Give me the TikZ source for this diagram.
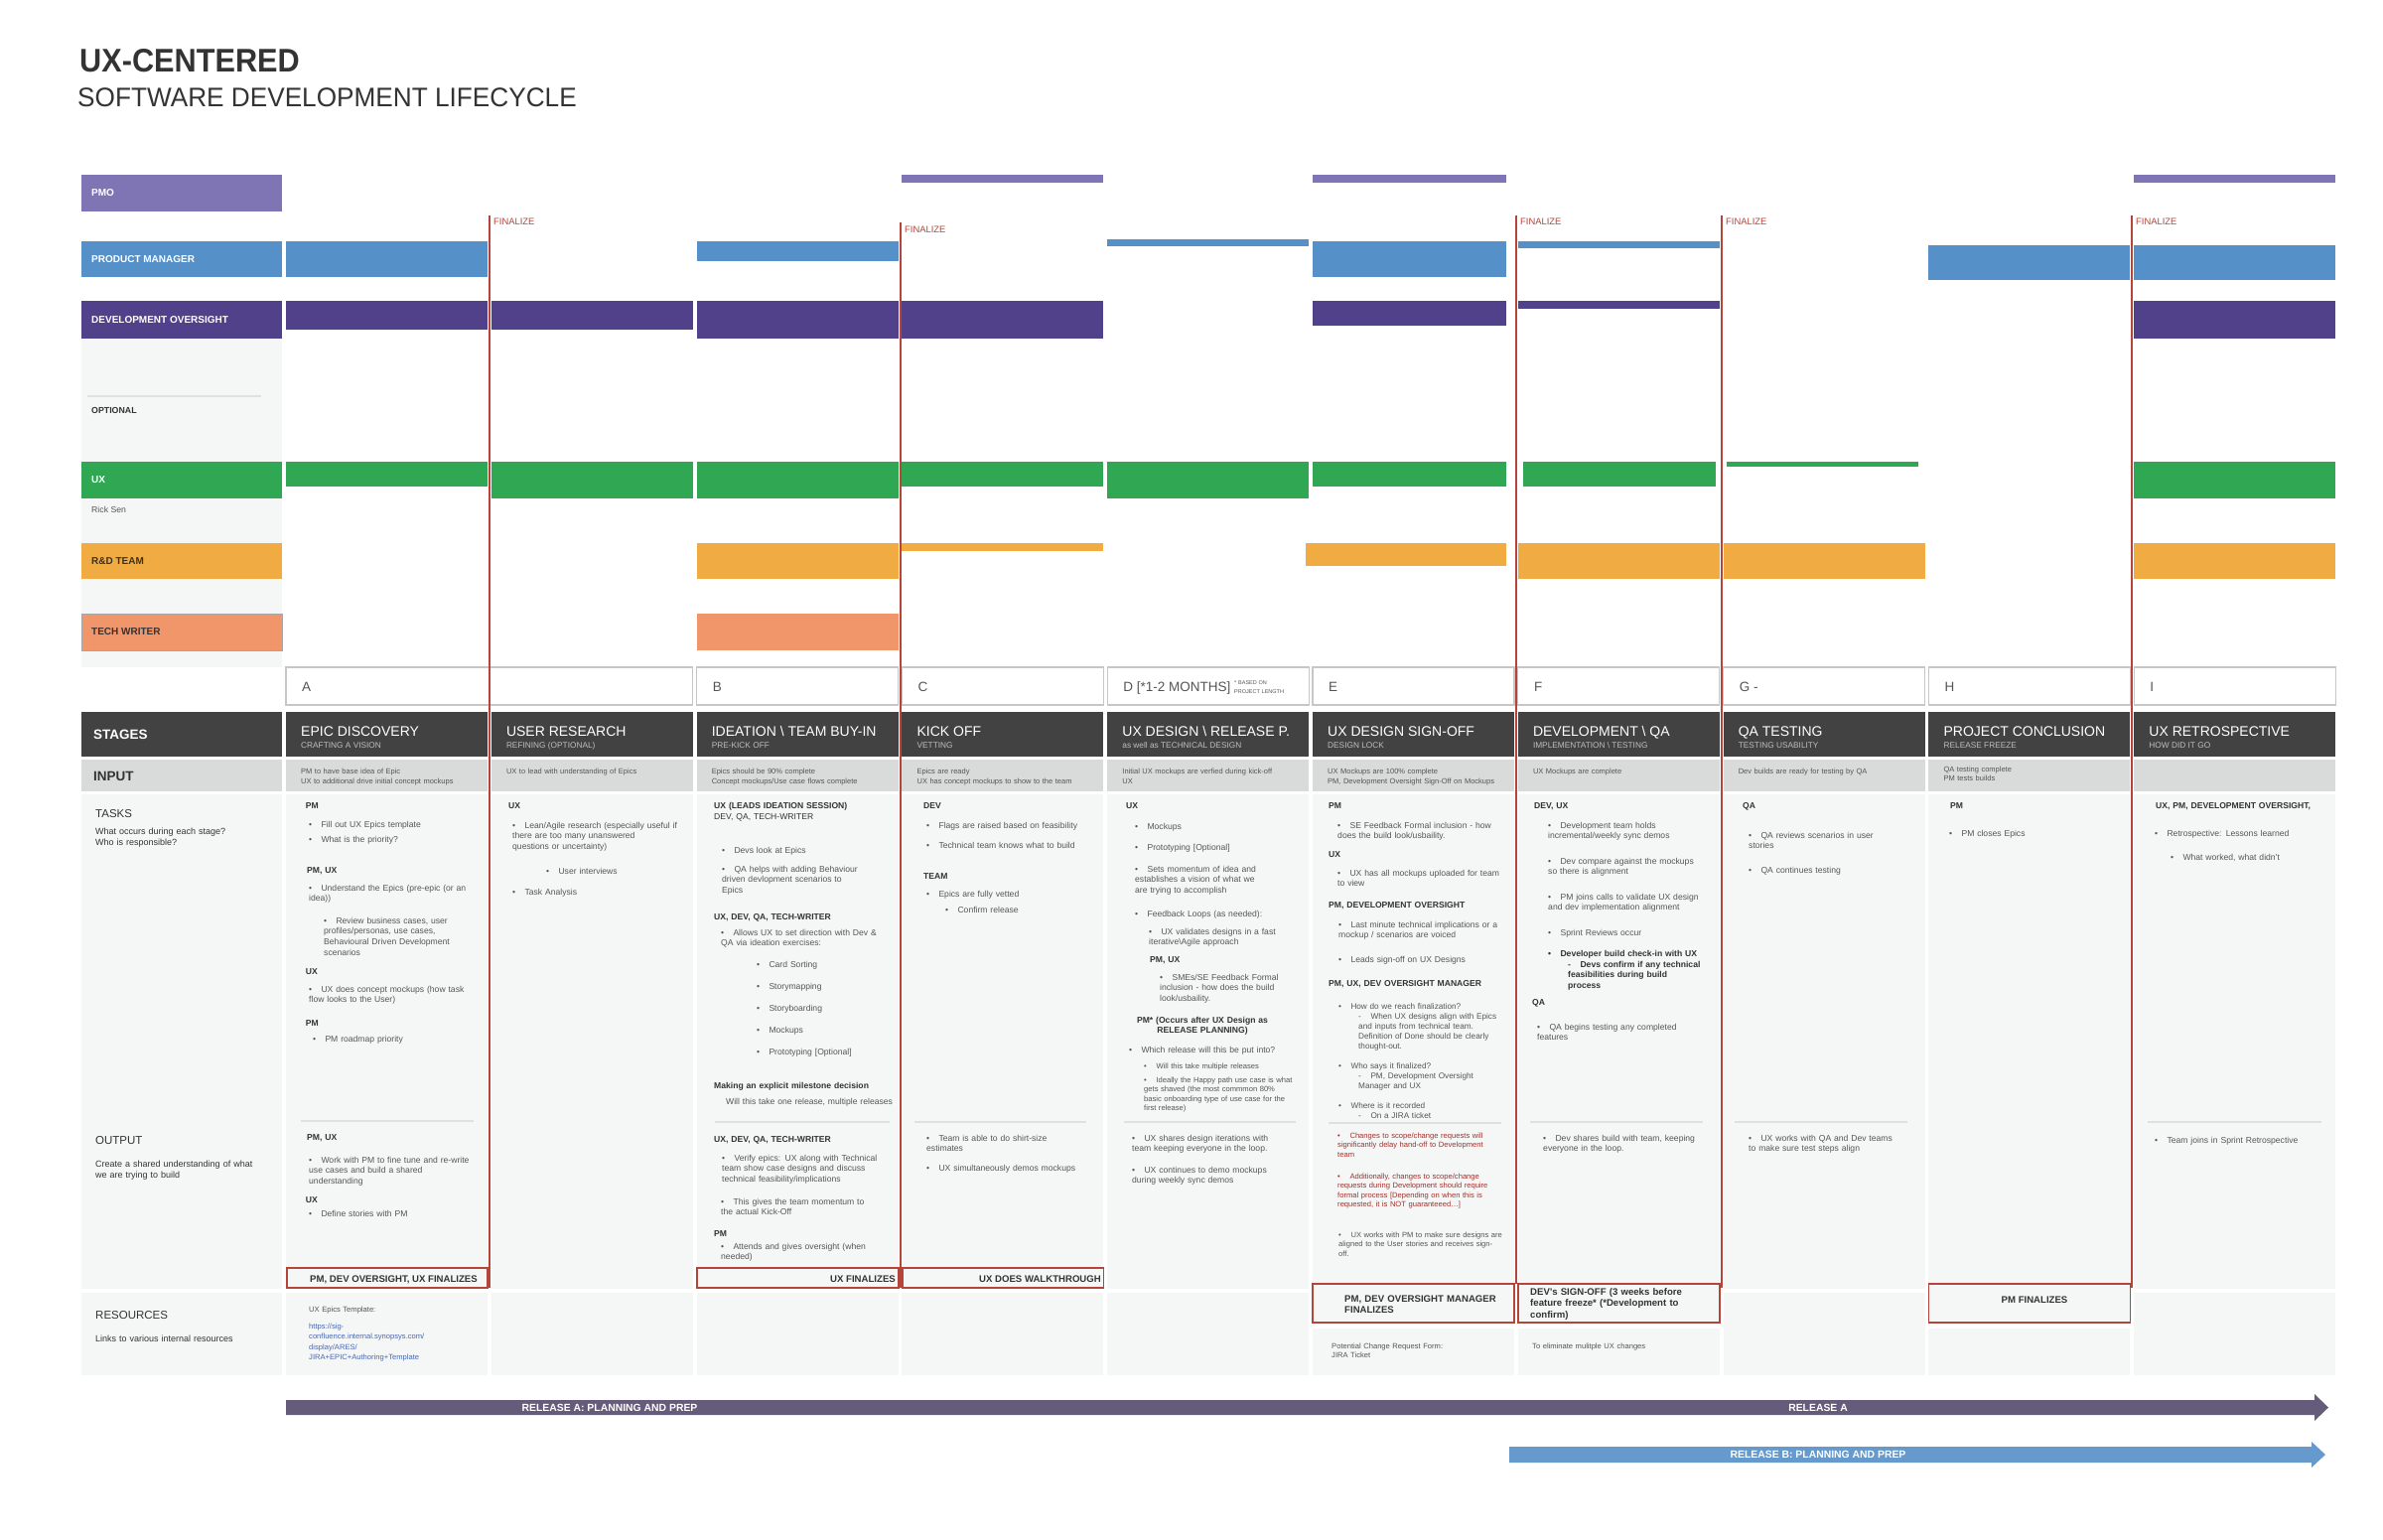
\documentclass[tikz,border=0pt]{standalone}
\usepackage{fontspec}
\setmainfont{Liberation Sans}
\usepackage{graphicx}
\usetikzlibrary{positioning}
\definecolor{pmocol}{HTML}{7F75B4}
\definecolor{pmcol}{HTML}{5590C8}
\definecolor{devcol}{HTML}{51418A}
\definecolor{uxcol}{HTML}{30A753}
\definecolor{rdcol}{HTML}{F0AC42}
\definecolor{twcol}{HTML}{F0966A}
\definecolor{stagecol}{HTML}{424242}
\definecolor{inputcol}{HTML}{D9DADA}
\definecolor{cellcol}{HTML}{F5F7F7}
\definecolor{redline}{HTML}{B5443A}
\definecolor{ink}{HTML}{333333}
\definecolor{body}{HTML}{555555}
\definecolor{linkcol}{HTML}{4A67AD}
\definecolor{relA}{HTML}{655B7A}
\definecolor{relB}{HTML}{6699CC}
\definecolor{alertcol}{HTML}{A0302A}
\newcommand\fs[2]{\fontsize{#1}{#2}\selectfont}
\newcommand\bu{\hangindent=12.3pt\hangafter=1\makebox[12.3pt][l]{\textbullet}}
\newcommand\da{\hangindent=12.3pt\hangafter=1\makebox[12.3pt][l]{-}}
\newcommand\rolebar[4]{\fill[#4] ({288+(#1-1)*206.8},#2) rectangle ({288+(#1-1)*206.8+203},#3);}
\begin{document}
\begin{tikzpicture}[x=1pt,y=-1pt,
  every node/.style={inner sep=0pt},
  txt/.style={anchor=base west,text width=195pt,align=left,font=\fs{8.6}{10.7},text=body},
  hd/.style={txt,font=\fs{8.6}{10.7}\bfseries,text=ink},
  sm/.style={txt,font=\fs{8.2}{10}},
  xs/.style={txt,font=\fs{7.6}{9.5}},
  alert/.style={xs,text=alertcol},
  role/.style={anchor=west,font=\fs{10}{12}\bfseries,text=white},
  fin/.style={anchor=base west,font=\fs{9.6}{11.8}\bfseries,text=ink},
  finbox/.style={draw=redline,line width=1.8pt,fill=cellcol},
  sep/.style={draw=black!12,line width=1.2pt},
  redv/.style={draw=redline,line width=2pt},
  finlbl/.style={anchor=base west,font=\fs{9.4}{10},text=redline},
  stg/.style={anchor=base west,font=\fs{14}{16},text=white},
  stgsub/.style={anchor=base west,font=\fs{8.3}{10},text=white!75!black},
  inp/.style={anchor=base west,text width=195pt,align=left,font=\fs{7.5}{10.8},text=body},
  lett/.style={anchor=base west,font=\fs{13.5}{16},text=body},
  letbox/.style={draw=black!22,fill=white,line width=1.2pt},
  side/.style={anchor=base west,font=\fs{11.5}{14},text=ink},
  sidesub/.style={anchor=base west,text width=185pt,align=left,font=\fs{9}{11},text=ink},
  rel/.style={font=\fs{10.4}{11}\bfseries,text=white}
  ]
\useasboundingbox (0,0) rectangle (2400,1550);

% title
\node[anchor=base west,text=ink,font=\fs{33}{36}\bfseries] (title) at (80,72) {\scalebox{0.93}[1]{UX-CENTERED}};
\node[anchor=base west,text=ink,font=\fs{27}{30}] (subtitle) at (78,107) {\scalebox{0.97}[1]{SOFTWARE DEVELOPMENT LIFECYCLE}};

% roles
\fill[cellcol] (82,341) rectangle (284,672);
\fill[pmocol] (82,176) rectangle (284,213);
\node[role] (pmo) at (92,194.5) {PMO};
\fill[pmcol] (82,243) rectangle (284,279);
\node[role] (pm) at (92,261) {PRODUCT MANAGER};
\fill[devcol] (82,303) rectangle (284,341);
\node[role] (dev) at (92,322) {DEVELOPMENT OVERSIGHT};
\draw[sep] (88,399) -- (263,399);
\node[anchor=base west,font=\fs{8.8}{10}\bfseries,text=ink] (opt) at (92,416) {OPTIONAL};
\fill[uxcol] (82,465) rectangle (284,502);
\node[role] (ux) at (92,483.5) {UX};
\node[anchor=base west,font=\fs{8.7}{10},text=body] (rick) at (92,516) {Rick Sen};
\fill[rdcol] (82,547) rectangle (284,583);
\node[role,text=ink] (rd) at (92,565) {R\&D TEAM};
\filldraw[fill=twcol,draw=black!35,line width=1pt] (82,618) rectangle (284,655);
\node[role,text=ink] (tw) at (92,636.5) {TECH WRITER};

% side column
\fill[stagecol] (82,717) rectangle (284,762);
\node[anchor=base west,font=\fs{13.5}{16}\bfseries,text=white] (stages) at (94,744) {STAGES};
\fill[inputcol] (82,765) rectangle (284,797);
\node[anchor=base west,font=\fs{13.5}{16}\bfseries,text=ink] (input) at (94,786) {INPUT};
\fill[cellcol] (82,800) rectangle (284,1298);
\fill[cellcol] (82,1302) rectangle (284,1385);
\node[side] (tasks) at (96,823) {TASKS};
\node[sidesub] (tasksub) at (96,840) {What occurs during each stage?\\Who is responsible?};
\node[side] (output) at (96,1152) {OUTPUT};
\node[sidesub] (outsub) at (96,1175) {Create a shared understanding of what\\we are trying to build};
\node[side] (res) at (96,1328) {RESOURCES};
\node[sidesub] (ressub) at (96,1351) {Links to various internal resources};

% column cells
\foreach \i in {1,...,10}{
  \pgfmathsetmacro\colL{288+(\i-1)*206.8}
  \pgfmathsetmacro\colR{\colL+203}
  \fill[stagecol] (\colL,717) rectangle (\colR,762);
  \fill[inputcol] (\colL,765) rectangle (\colR,797);
}
\foreach \i in {1,2,3,4,5,8,10}{
  \pgfmathsetmacro\colL{288+(\i-1)*206.8}
  \pgfmathsetmacro\colR{\colL+203}
  \fill[cellcol] (\colL,800) rectangle (\colR,1298);
  \fill[cellcol] (\colL,1302) rectangle (\colR,1385);
}
\foreach \i in {6,7,9}{
  \pgfmathsetmacro\colL{288+(\i-1)*206.8}
  \pgfmathsetmacro\colR{\colL+203}
  \fill[cellcol] (\colL,800) rectangle (\colR,1332);
  \fill[cellcol] (\colL,1338) rectangle (\colR,1385);
}

% role bars
\rolebar{4}{176}{184}{pmocol}
\fill[pmocol] (1322,176) rectangle (1517,184);
\rolebar{10}{176}{184}{pmocol}
\rolebar{1}{243}{279}{pmcol}
\rolebar{3}{243}{263}{pmcol}
\rolebar{5}{241}{248}{pmcol}
\fill[pmcol] (1322,243) rectangle (1517,279);
\rolebar{7}{243}{250}{pmcol}
\rolebar{9}{247}{282}{pmcol}
\rolebar{10}{247}{282}{pmcol}
\rolebar{1}{303}{332}{devcol}
\rolebar{2}{303}{332}{devcol}
\rolebar{3}{303}{341}{devcol}
\rolebar{4}{303}{341}{devcol}
\fill[devcol] (1322,303) rectangle (1517,328);
\rolebar{7}{303}{311}{devcol}
\rolebar{10}{303}{341}{devcol}
\rolebar{1}{465}{490}{uxcol}
\rolebar{2}{465}{502}{uxcol}
\rolebar{3}{465}{502}{uxcol}
\rolebar{4}{465}{490}{uxcol}
\rolebar{5}{465}{502}{uxcol}
\fill[uxcol] (1322,465) rectangle (1517,490);
\fill[uxcol] (1534,465) rectangle (1728,490);
\fill[uxcol] (1739,465) rectangle (1932,470);
\rolebar{10}{465}{502}{uxcol}
\rolebar{3}{547}{583}{rdcol}
\rolebar{4}{547}{555}{rdcol}
\fill[rdcol] (1315,547) rectangle (1517,570);
\rolebar{7}{547}{583}{rdcol}
\rolebar{8}{547}{583}{rdcol}
\rolebar{10}{547}{583}{rdcol}
\rolebar{3}{618}{655}{twcol}

% letters
\draw[letbox] (288,672) rectangle (697.8,710);
\node[lett] (lA) at (304,696) {A};
\foreach \i/\l in {3/B,4/C,5/{D [*1-2 MONTHS]},6/E,7/F,8/{G -},9/H,10/I}{
  \pgfmathsetmacro\colL{288+(\i-1)*206.8}
  \draw[letbox] (\colL,672) rectangle (\colL+203,710);
  \node[lett] (l\i) at (\colL+16,696) {\l};
}
\node[anchor=base west,font=\fs{5.5}{9},text=body,align=left,text width=60pt] (lnote) at (1243,689) {* BASED ON\\PROJECT LENGTH};

% stages
\node[stg] (s1) at (303,741) {EPIC DISCOVERY};
\node[stgsub] (s1b) at (303,753) {CRAFTING A VISION};
\node[stg] (s2) at (509.8,741) {USER RESEARCH};
\node[stgsub] (s2b) at (509.8,753) {REFINING (OPTIONAL)};
\node[stg] (s3) at (716.6,741) {IDEATION \textbackslash\ TEAM BUY-IN};
\node[stgsub] (s3b) at (716.6,753) {PRE-KICK OFF};
\node[stg] (s4) at (923.4,741) {KICK OFF};
\node[stgsub] (s4b) at (923.4,753) {VETTING};
\node[stg] (s5) at (1130.2,741) {UX DESIGN \textbackslash\ RELEASE P.};
\node[stgsub] (s5b) at (1130.2,753) {as well as TECHNICAL DESIGN};
\node[stg] (s6) at (1337,741) {UX DESIGN SIGN-OFF};
\node[stgsub] (s6b) at (1337,753) {DESIGN LOCK};
\node[stg] (s7) at (1543.8,741) {DEVELOPMENT \textbackslash\ QA};
\node[stgsub] (s7b) at (1543.8,753) {IMPLEMENTATION \textbackslash\ TESTING};
\node[stg] (s8) at (1750.6,741) {QA TESTING};
\node[stgsub] (s8b) at (1750.6,753) {TESTING USABILITY};
\node[stg] (s9) at (1957.4,741) {PROJECT CONCLUSION};
\node[stgsub] (s9b) at (1957.4,753) {RELEASE FREEZE};
\node[stg] (s10) at (2164.2,741) {UX RETROSPECTIVE};
\node[stgsub] (s10b) at (2164.2,753) {HOW DID IT GO};

% input
\node[inp] (in1) at (303,779) {PM to have base idea of Epic\\UX to additional drive initial concept mockups};
\node[inp] (in2) at (509.8,779) {UX to lead with understanding of Epics};
\node[inp] (in3) at (716.6,779) {Epics should be 90\% complete\\Concept mockups/Use case flows complete};
\node[inp] (in4) at (923.4,779) {Epics are ready\\UX has concept mockups to show to the team};
\node[inp] (in5) at (1130.2,779) {Initial UX mockups are verfied during kick-off\\UX};
\node[inp] (in6) at (1337,779) {UX Mockups are 100\% complete\\PM, Development Oversight Sign-Off on Mockups};
\node[inp] (in7) at (1543.8,779) {UX Mockups are complete};
\node[inp] (in8) at (1750.6,779) {Dev builds are ready for testing by QA};
\node[inp,font=\fs{7.5}{9.5}] (in9) at (1957.4,777) {QA testing complete\\PM tests builds};

% A: epic discovery
\node[hd] (a1) at (307.7,814) {PM};
\node[txt] (a2) at (311,833.7) {\bu Fill out UX Epics template};
\node[txt] (a3) at (311,848) {\bu What is the priority?};
\node[hd] (a4) at (309,879) {PM, UX};
\node[txt] (a5) at (311,897) {\bu Understand the Epics (pre-epic (or an\\idea))};
\node[txt] (a6) at (326,930) {\bu Review business cases, user\\profiles/personas, use cases,\\Behavioural Driven Development\\scenarios};
\node[hd] (a7) at (307.7,981) {UX};
\node[txt] (a8) at (311,999) {\bu UX does concept mockups (how task\\flow looks to the User)};
\node[hd] (a9) at (307.7,1033) {PM};
\node[txt] (a10) at (315,1049) {\bu PM roadmap priority};
\draw[sep] (303,1129) -- (477,1129);
\node[hd] (a11) at (309,1148) {PM, UX};
\node[txt] (a12) at (311,1171) {\bu Work with PM to fine tune and re-write\\use cases and build a shared\\understanding};
\node[hd] (a13) at (307.7,1211) {UX};
\node[txt] (a14) at (311,1225) {\bu Define stories with PM};

% user research
\node[hd] (b1) at (512,814) {UX};
\node[txt] (b2) at (516,834) {\bu Lean/Agile research (especially useful if\\there are too many unanswered\\questions or uncertainty)};
\node[txt] (b3) at (550,880) {\bu User interviews};
\node[txt] (b4) at (516,901) {\bu Task Analysis};

% B: ideation
\node[hd] (c1) at (719,814) {UX (LEADS IDEATION SESSION)};
\node[txt,text=ink] (c2) at (719,825) {DEV, QA, TECH-WRITER};
\node[txt] (c3) at (727,859) {\bu Devs look at Epics};
\node[txt] (c4) at (727,878) {\bu QA helps with adding Behaviour\\driven devlopment scenarios to\\Epics};
\node[hd] (c5) at (719,926) {UX, DEV, QA, TECH-WRITER};
\node[txt] (c6) at (726,942) {\bu Allows UX to set direction with Dev \&\\QA via ideation exercises:};
\node[txt] (c7) at (762,974) {\bu Card Sorting};
\node[txt] (c8) at (762,996) {\bu Storymapping};
\node[txt] (c9) at (762,1018) {\bu Storyboarding};
\node[txt] (c10) at (762,1040) {\bu Mockups};
\node[txt] (c11) at (762,1062) {\bu Prototyping [Optional]};
\node[hd] (c12) at (719,1096) {Making an explicit milestone decision};
\node[txt] (c13) at (731,1112) {Will this take one release, multiple releases};
\draw[sep] (720,1130) -- (896,1130);
\node[hd] (c14) at (719,1150) {UX, DEV, QA, TECH-WRITER};
\node[txt] (c15) at (727,1169) {\bu Verify epics: UX along with Technical\\team show case designs and discuss\\technical feasibility/implications};
\node[txt] (c16) at (726,1213) {\bu This gives the team momentum to\\the actual Kick-Off};
\node[hd] (c17) at (719,1245) {PM};
\node[txt] (c18) at (726,1258) {\bu Attends and gives oversight (when\\needed)};

% C: kick off
\node[hd] (d1) at (930,814) {DEV};
\node[txt] (d2) at (933,834) {\bu Flags are raised based on feasibility};
\node[txt] (d3) at (933,854) {\bu Technical team knows what to build};
\node[hd] (d4) at (930,885) {TEAM};
\node[txt] (d5) at (933,903) {\bu Epics are fully vetted};
\node[txt] (d6) at (952,919) {\bu Confirm release};
\draw[sep] (921,1130) -- (1094,1130);
\node[txt] (d7) at (933,1149) {\bu Team is able to do shirt-size\\estimates};
\node[txt] (d8) at (933,1179) {\bu UX simultaneously demos mockups};

% D: ux design
\node[hd] (e1) at (1134,814) {UX};
\node[txt] (e2) at (1143,835) {\bu Mockups};
\node[txt] (e3) at (1143,856) {\bu Prototyping [Optional]};
\node[txt] (e4) at (1143,878) {\bu Sets momentum of idea and\\establishes a vision of what we\\are trying to accomplish};
\node[txt] (e5) at (1143,923) {\bu Feedback Loops (as needed):};
\node[txt] (e6) at (1157,941) {\bu UX validates designs in a fast\\iterative\textbackslash Agile approach};
\node[hd] (e7) at (1158,969) {PM, UX};
\node[txt] (e8) at (1168,987) {\bu SMEs/SE Feedback Formal\\inclusion - how does the build\\look/usbaility.};
\node[hd,anchor=base,text width=170pt,align=center,font=\fs{8.6}{10.4}\bfseries] (e9) at (1211,1030) {PM* (Occurs after UX Design as\\RELEASE PLANNING)};
\node[txt] (e10) at (1137,1060) {\bu Which release will this be put into?};
\node[xs] (e11) at (1152,1076) {\bu Will this take multiple releases};
\node[xs] (e12) at (1152,1090) {\bu Ideally the Happy path use case is what\\gets shaved (the most commmon 80\%\\basic onboarding type of use case for the\\first release)};
\draw[sep] (1132,1130) -- (1305,1130);
\node[txt] (e13) at (1140,1149) {\bu UX shares design iterations with\\team keeping everyone in the loop.};
\node[txt] (e14) at (1140,1181) {\bu UX continues to demo mockups\\during weekly sync demos};

% E: sign-off
\node[hd] (f1) at (1338,814) {PM};
\node[txt] (f2) at (1347,834) {\bu SE Feedback Formal inclusion - how\\does the build look/usbaility.};
\node[hd] (f3) at (1338,863) {UX};
\node[txt] (f4) at (1347,882) {\bu UX has all mockups uploaded for team\\to view};
\node[hd] (f5) at (1338,914) {PM, DEVELOPMENT OVERSIGHT};
\node[txt] (f6) at (1348,934) {\bu Last minute technical implications or a\\mockup / scenarios are voiced};
\node[txt] (f7) at (1348,969) {\bu Leads sign-off on UX Designs};
\node[hd] (f8) at (1338,993) {PM, UX, DEV OVERSIGHT MANAGER};
\node[sm] (f9) at (1348,1016) {\bu How do we reach finalization?};
\node[sm] (f10) at (1368,1026) {\da When UX designs align with Epics\\and inputs from technical team.\\Definition of Done should be clearly\\thought-out.};
\node[sm] (f11) at (1348,1076) {\bu Who says it finalized?};
\node[sm] (f12) at (1368,1086) {\da PM, Development Oversight\\Manager and UX};
\node[sm] (f13) at (1348,1116) {\bu Where is it recorded};
\node[sm] (f14) at (1368,1126) {\da On a JIRA ticket};
\draw[sep] (1338,1131) -- (1512,1131);
\node[alert] (f15) at (1347,1146) {\bu Changes to scope/change requests will\\significantly delay hand-off to Development\\team};
\node[alert] (f16) at (1347,1187) {\bu Additionally, changes to scope/change\\requests during Development should require\\formal process [Depending on when this is\\requested, it is NOT guaranteeed\ldots]};
\node[xs] (f17) at (1348,1246) {\bu UX works with PM to make sure designs are\\aligned to the User stories and receives sign-\\off.};

% F: development
\node[hd] (g1) at (1545,814) {DEV, UX};
\node[txt] (g2) at (1559,834) {\bu Development team holds\\incremental/weekly sync demos};
\node[txt] (g3) at (1559,870) {\bu Dev compare against the mockups\\so there is alignment};
\node[txt] (g4) at (1559,906) {\bu PM joins calls to validate UX design\\and dev implementation alignment};
\node[txt] (g5) at (1559,942) {\bu Sprint Reviews occur};
\node[hd] (g6) at (1559,963) {\bu Developer build check-in with UX};
\node[hd] (g7) at (1579,974) {\da Devs confirm if any technical\\feasibilities during build\\process};
\node[hd] (g8) at (1543,1012) {QA};
\node[txt] (g9) at (1548,1037) {\bu QA begins testing any completed\\features};
\draw[sep] (1541,1130) -- (1715,1130);
\node[txt] (g10) at (1554,1149) {\bu Dev shares build with team, keeping\\everyone in the loop.};

% G: qa testing
\node[hd] (h1) at (1755,814) {QA};
\node[txt] (h2) at (1761,844) {\bu QA reviews scenarios in user\\stories};
\node[txt] (h3) at (1761,879) {\bu QA continues testing};
\draw[sep] (1747,1130) -- (1921,1130);
\node[txt] (h4) at (1761,1149) {\bu UX works with QA and Dev teams\\to make sure test steps align};

% H: conclusion
\node[hd] (i1) at (1964,814) {PM};
\node[txt] (i2) at (1963,842) {\bu PM closes Epics};

% I: retrospective
\node[hd] (j1) at (2171,814) {UX, PM, DEVELOPMENT OVERSIGHT,};
\node[txt] (j2) at (2170,842) {\bu Retrospective: Lessons learned};
\node[txt] (j3) at (2186,866) {\bu What worked, what didn't};
\draw[sep] (2163,1130) -- (2338,1130);
\node[txt] (j4) at (2170,1151) {\bu Team joins in Sprint Retrospective};

% finalize lines
\draw[redv] (492.9,217) -- (492.9,1297);
\node[finlbl] (fz1) at (497,226.5) {FINALIZE};
\draw[redv] (906.5,224) -- (906.5,1297);
\node[finlbl] (fz2) at (911,234) {FINALIZE};
\draw[redv] (1526.9,217) -- (1526.9,1293);
\node[finlbl] (fz3) at (1531,226.5) {FINALIZE};
\draw[redv] (1733.7,217) -- (1733.7,1297);
\node[finlbl] (fz4) at (1738,226.5) {FINALIZE};
\draw[redv] (2147.3,217) -- (2147.3,1297);
\node[finlbl] (fz5) at (2151,226.5) {FINALIZE};

% finalize boxes
\draw[finbox] (289,1277) rectangle (491,1297);
\node[fin] (finA) at (312,1291) {PM, DEV OVERSIGHT, UX FINALIZES};
\draw[finbox] (702,1277) rectangle (904.6,1297);
\node[fin,anchor=base east] (finB) at (902,1291) {UX FINALIZES};
\draw[finbox] (909,1277) rectangle (1111.4,1297);
\node[fin,anchor=base east] (finC) at (1109,1291) {UX DOES WALKTHROUGH};
\draw[finbox] (1322,1293) rectangle (1525,1332);
\node[fin,text width=170pt,align=left] (finE) at (1354,1311) {PM, DEV OVERSIGHT MANAGER\\FINALIZES};
\draw[finbox] (1528.8,1293) rectangle (1732,1332);
\node[fin,text width=195pt,align=left] (finF) at (1541,1304) {DEV's SIGN-OFF (3 weeks before\\feature freeze* (*Development to\\confirm)};
\draw[finbox] (1942.4,1293) rectangle (2145.4,1332);
\node[fin,anchor=base] (finH) at (2049,1312) {PM FINALIZES};

% resources
\node[xs] (r1) at (311,1321) {UX Epics Template:};
\node[xs,text=linkcol,font=\fs{7.6}{10.5}] (r2) at (311,1338) {https://sig-\\confluence.internal.synopsys.com/\\display/ARES/\\JIRA+EPIC+Authoring+Template};
\node[xs] (r3) at (1341,1358) {Potential Change Request Form:\\JIRA Ticket};
\node[xs] (r4) at (1543,1358) {To eliminate mulitple UX changes};

% releases
\fill[relA] (288,1410) -- (2331,1410) -- (2331,1404) -- (2345,1417.5) -- (2331,1431) -- (2331,1425) -- (288,1425) -- cycle;
\node[rel] (relA1) at (614,1417.5) {RELEASE A: PLANNING AND PREP};
\node[rel] (relA2) at (1831,1417.5) {RELEASE A};
\fill[relB] (1520,1457) -- (2328,1457) -- (2328,1452) -- (2342,1465) -- (2328,1478) -- (2328,1473) -- (1520,1473) -- cycle;
\node[rel] (relB1) at (1831,1465) {RELEASE B: PLANNING AND PREP};
\end{tikzpicture}
\end{document}
